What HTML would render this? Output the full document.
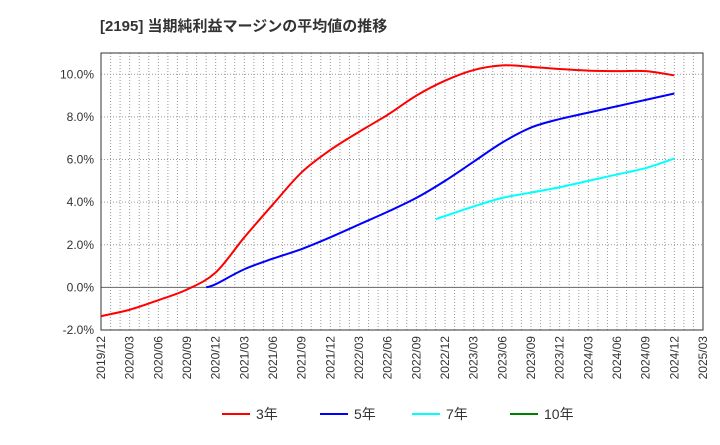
<!DOCTYPE html>
<html><head><meta charset="utf-8"><style>
body{margin:0;background:#fff;font-family:"Liberation Sans","Noto Sans CJK JP",sans-serif}
</style></head><body>
<svg id="c" width="720" height="440" xmlns="http://www.w3.org/2000/svg">
<text x="100" y="31" font-size="15" font-weight="bold" fill="#333" font-family="Liberation Sans, Noto Sans CJK JP, sans-serif">[2195]  当期純利益マージンの平均値の推移</text>
<g id="grid"></g><g id="axes"></g><g id="series"></g><g id="legend"></g>
</svg>
<script>
const xLabels=["2019/12","2020/03","2020/06","2020/09","2020/12","2021/03","2021/06","2021/09","2021/12","2022/03","2022/06","2022/09","2022/12","2023/03","2023/06","2023/09","2023/12","2024/03","2024/06","2024/09","2024/12","2025/03"];
const yTicks=[-2,0,2,4,6,8,10];
const m3=[0,3,6,9,12,15,18,21,24,27,30,33,36,39,42,45,48,51,54,57,60];
const v3=[-1.35,-1.05,-0.6,-0.1,0.7,2.35,3.9,5.4,6.45,7.3,8.1,9.0,9.7,10.2,10.42,10.35,10.25,10.17,10.15,10.15,9.95];
const m5=[11,12,15,18,21,24,27,30,33,36,39,42,45,48,51,54,57,60];
const v5=[0.0,0.15,0.85,1.35,1.8,2.35,2.95,3.55,4.2,5.0,5.9,6.8,7.5,7.9,8.2,8.5,8.8,9.1];
const m7=[35,36,39,42,45,48,51,54,57,60];
const v7=[3.2,3.35,3.8,4.2,4.45,4.7,5.0,5.3,5.6,6.05];
const L=101,R=703,T=53,B=330;
const X=m=>L+(R-L)*m/63;
const Y=v=>B-(v+2)*(B-T)/13;
const NS="http://www.w3.org/2000/svg";
function mk(p,t,a){const e=document.createElementNS(NS,t);for(const k in a)e.setAttribute(k,a[k]);p.appendChild(e);return e;}
const g=document.getElementById('grid'),ax=document.getElementById('axes'),s=document.getElementById('series'),lg=document.getElementById('legend');
for(let m=1;m<63;m++){const l=mk(g,'line',{x1:X(m),x2:X(m),y1:T,y2:B,stroke:'#999','stroke-dasharray':'1,2','stroke-width':1});

}
yTicks.forEach(v=>{const y=Y(v);
if(v>-2){const l=mk(g,'line',{x1:L,x2:R,y1:y,y2:y,stroke:v===0?'#666':'#999','stroke-dasharray':v===0?'':'1,2','stroke-width':1});

}
const t=mk(ax,'text',{x:L-7,y:y+4,'text-anchor':'end','font-size':12,fill:'#333'});t.textContent=v.toFixed(1)+'%';

});
xLabels.forEach((lab,i)=>{const x=X(i*3);const t=mk(ax,'text',{transform:`translate(${x+4},${B+6}) rotate(-90)`,'text-anchor':'end','font-size':12,fill:'#333'});t.textContent=lab;

});
const fr=mk(ax,'rect',{x:L,y:T,width:R-L,height:B-T,fill:'none',stroke:'#333','stroke-width':1});


function line(ms,vs,col,name){
const P=ms.map((m,i)=>[X(m),Y(vs[i])]);
let d='M'+P[0][0]+','+P[0][1];
for(let i=0;i<P.length-1;i++){const p0=P[Math.max(0,i-1)],p1=P[i],p2=P[i+1],p3=P[Math.min(P.length-1,i+2)];
const c1=[p1[0]+(p2[0]-p0[0])/6,p1[1]+(p2[1]-p0[1])/6],c2=[p2[0]-(p3[0]-p1[0])/6,p2[1]-(p3[1]-p1[1])/6];
d+=` C${c1[0]},${c1[1]} ${c2[0]},${c2[1]} ${p2[0]},${p2[1]}`;}
const p=mk(s,'path',{d:d,fill:'none',stroke:col,'stroke-width':2,'stroke-linejoin':'round'});

}
line(m3,v3,'#ff0000','series-3y');
line(m5,v5,'#0000ff','series-5y');
line(m7,v7,'#00ffff','series-7y');
[['3年','#ff0000',222],['5年','#0000ff',320],['7年','#00ffff',412],['10年','#008000',510]].forEach(([n,c,x])=>{
const gg=mk(lg,'g',{});


mk(gg,'line',{x1:x,x2:x+28,y1:414,y2:414,stroke:c,'stroke-width':2});
const t=mk(gg,'text',{x:x+34,y:419,'font-size':14,fill:'#333'});t.textContent=n;});
</script>
</body></html>
